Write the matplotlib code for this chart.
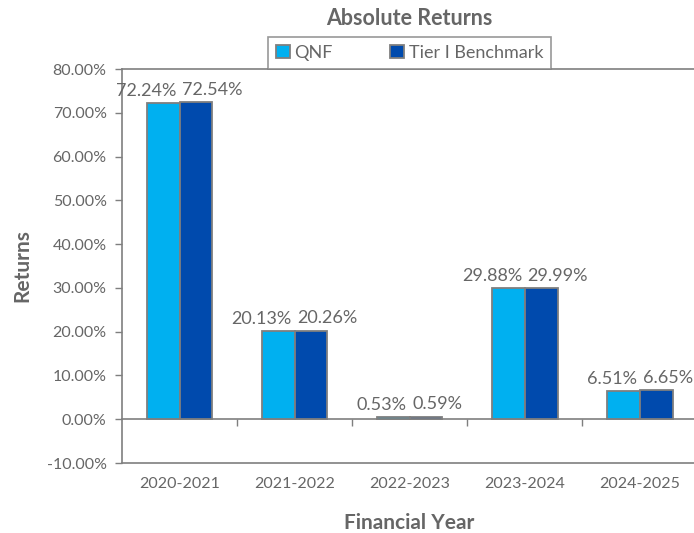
import numpy as np
import matplotlib as mpl
mpl.use('Agg')
import matplotlib.pyplot as plt
from matplotlib.ticker import FuncFormatter

mpl.rc('font', family=['Lato', 'DejaVu Sans'])

years = ['2020-2021', '2021-2022', '2022-2023', '2023-2024', '2024-2025']
qnf = [72.24, 20.13, 0.53, 29.88, 6.51]
bench = [72.54, 20.26, 0.59, 29.99, 6.65]
series_names = ['QNF', 'Tier I Benchmark']
yticks = np.arange(-10, 81, 10)

grey = '#666666'
edge = '#7f7f7f'
colors = ['#00b0f0', '#004aad']

fig = plt.figure(figsize=(6.94, 5.33), dpi=100)
ax = fig.add_axes([0.1758, 0.1313, 0.829, 0.7392])

x = np.arange(len(years))
w = 0.285
ax.bar(x - w / 2, qnf, w, color=colors[0], edgecolor=edge, linewidth=1.3, label=series_names[0])
ax.bar(x + w / 2, bench, w, color=colors[1], edgecolor=edge, linewidth=1.3, label=series_names[1])

# value labels pushed apart so they don't collide
for i in range(len(years)):
    ax.annotate('%.2f%%' % qnf[i], (x[i], qnf[i]), xytext=(-2, 3), textcoords='offset points',
                ha='right', va='bottom', fontsize=13, color=grey)
    ax.annotate('%.2f%%' % bench[i], (x[i], bench[i]), xytext=(2, 3), textcoords='offset points',
                ha='left', va='bottom', fontsize=13, color=grey)

ax.set_xlim(-0.5, len(years) - 0.5)
ax.set_ylim(-10, 80)
ax.set_yticks(yticks)
ax.yaxis.set_major_formatter(FuncFormatter(lambda v, p: '%.2f%%' % v))
ax.tick_params(axis='y', colors=edge, labelcolor=grey, labelsize=11.5, length=5, width=1, pad=6)
ax.set_xticks(x)
ax.set_xticklabels(years)
ax.tick_params(axis='x', length=0, labelcolor=grey, labelsize=11.5, pad=10)

for s in ['left', 'bottom', 'top']:
    ax.spines[s].set_color(edge)
    ax.spines[s].set_linewidth(1.2)
ax.spines['right'].set_visible(False)

# zero line with ticks between categories
zax = ax.secondary_xaxis(10 / 90)
zax.set_xticks(x[:-1] + 0.5)
zax.set_xticklabels([])
zax.tick_params(axis='x', direction='out', length=5, width=1, colors=edge)
zax.spines['bottom'].set_color(edge)
zax.spines['bottom'].set_linewidth(1.2)

ax.set_ylabel('Returns', fontsize=15, fontweight='bold', color=grey, labelpad=10)
ax.set_xlabel('Financial Year', fontsize=15, fontweight='bold', color=grey, labelpad=16)
ax.set_title('Absolute Returns', fontsize=15.5, fontweight='bold', color=grey, pad=32)

leg = ax.legend(loc='lower center', bbox_to_anchor=(0.5, 1.0), ncol=2, fontsize=13,
                frameon=True, fancybox=False, edgecolor=edge, borderpad=0.45,
                columnspacing=3.2, handlelength=0.75, handleheight=0.75, handletextpad=0.25,
                borderaxespad=0.0)
leg.get_frame().set_linewidth(1.2)
for t in leg.get_texts():
    t.set_color(grey)

plt.savefig('out.png', dpi=100)
plt.close()
